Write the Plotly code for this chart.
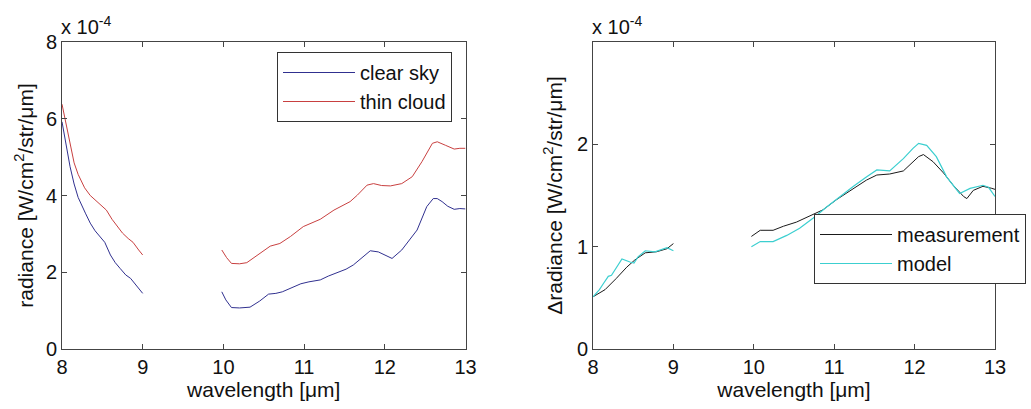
import plotly.graph_objects as go

# ---- data (radiance in units of 1e-4 W/cm^2/str/um) ----
clear_x1 = [8.00, 8.05, 8.10, 8.15, 8.20, 8.29, 8.35, 8.41, 8.47, 8.53, 8.60, 8.66, 8.72, 8.79, 8.85, 8.92, 9.00]
clear_y1 = [5.92, 5.30, 4.75, 4.30, 3.95, 3.54, 3.28, 3.08, 2.92, 2.78, 2.45, 2.25, 2.10, 1.93, 1.84, 1.66, 1.45]
clear_x2 = [9.98, 10.03, 10.10, 10.20, 10.33, 10.45, 10.56, 10.65, 10.73, 10.85, 10.96, 11.06, 11.20, 11.30, 11.43,
            11.52, 11.61, 11.72, 11.82, 11.92, 12.00, 12.09, 12.21, 12.30, 12.40, 12.52, 12.60, 12.65, 12.71, 12.78,
            12.86, 12.93, 13.00]
clear_y2 = [1.49, 1.28, 1.08, 1.07, 1.09, 1.25, 1.43, 1.45, 1.49, 1.60, 1.70, 1.75, 1.80, 1.90, 2.01,
            2.08, 2.19, 2.38, 2.56, 2.53, 2.45, 2.36, 2.58, 2.82, 3.10, 3.71, 3.92, 3.92, 3.84, 3.72,
            3.64, 3.66, 3.65]

cloud_x1 = [8.00, 8.05, 8.10, 8.15, 8.20, 8.28, 8.35, 8.43, 8.50, 8.55, 8.62, 8.68, 8.75, 8.82, 8.88, 8.95, 9.00]
cloud_y1 = [6.38, 5.85, 5.30, 4.85, 4.55, 4.20, 4.00, 3.84, 3.72, 3.62, 3.38, 3.20, 3.02, 2.88, 2.78, 2.58, 2.45]
cloud_x2 = [9.98, 10.04, 10.10, 10.20, 10.29, 10.42, 10.50, 10.58, 10.70, 10.83, 10.99, 11.10, 11.20, 11.37, 11.47,
            11.57, 11.66, 11.78, 11.86, 11.96, 12.07, 12.21, 12.34, 12.46, 12.59, 12.65, 12.75, 12.86, 12.93, 13.00]
cloud_y2 = [2.58, 2.38, 2.23, 2.22, 2.25, 2.45, 2.58, 2.68, 2.75, 2.93, 3.19, 3.28, 3.38, 3.62, 3.73,
            3.84, 4.01, 4.27, 4.31, 4.26, 4.25, 4.31, 4.49, 4.88, 5.36, 5.40, 5.31, 5.21, 5.23, 5.23]

meas_x1 = [8.00, 8.15, 8.29, 8.42, 8.52, 8.65, 8.79, 8.92, 9.00]
meas_y1 = [0.51, 0.58, 0.69, 0.80, 0.87, 0.94, 0.95, 0.98, 1.03]
meas_x2 = [9.97, 10.08, 10.24, 10.37, 10.53, 10.70, 10.86, 11.03, 11.24, 11.40, 11.53, 11.69, 11.86, 11.98, 12.05,
           12.11, 12.23, 12.36, 12.48, 12.61, 12.65, 12.73, 12.85, 12.96, 13.00]
meas_y2 = [1.10, 1.16, 1.16, 1.20, 1.24, 1.30, 1.36, 1.46, 1.57, 1.65, 1.70, 1.71, 1.74, 1.83, 1.88,
           1.90, 1.83, 1.72, 1.60, 1.49, 1.47, 1.55, 1.59, 1.57, 1.56]

model_x1 = [8.00, 8.08, 8.13, 8.19, 8.23, 8.30, 8.36, 8.46, 8.51, 8.56, 8.65, 8.77, 8.85, 8.92, 9.00]
model_y1 = [0.51, 0.58, 0.64, 0.71, 0.72, 0.80, 0.88, 0.85, 0.84, 0.90, 0.96, 0.95, 0.97, 0.99, 0.96]
model_x2 = [9.97, 10.08, 10.24, 10.41, 10.57, 10.74, 10.91, 11.07, 11.24, 11.40, 11.53, 11.69, 11.86, 11.98, 12.05,
            12.15, 12.27, 12.40, 12.56, 12.69, 12.85, 12.92, 13.00]
model_y2 = [1.00, 1.05, 1.05, 1.11, 1.18, 1.28, 1.39, 1.49, 1.59, 1.68, 1.75, 1.74, 1.86, 1.96, 2.01,
            1.99, 1.88, 1.68, 1.52, 1.57, 1.60, 1.58, 1.49]

x_ticks = [8, 9, 10, 11, 12, 13]
left_yticks = [0, 2, 4, 6, 8]
right_yticks = [0, 1, 2]

W, H = 1031, 409
FONT = "Liberation Sans, Arial, sans-serif"
FS = 21
TFS = 20
LFS = 20


def join(a, b):
    return a + [None] + b


fig = go.Figure()
fig.add_trace(go.Scatter(x=join(clear_x1, clear_x2), y=join(clear_y1, clear_y2), mode="lines",
                         name="clear sky", line=dict(color="#30308f", width=1), xaxis="x", yaxis="y",
                         legend="legend", connectgaps=False))
fig.add_trace(go.Scatter(x=join(cloud_x1, cloud_x2), y=join(cloud_y1, cloud_y2), mode="lines",
                         name="thin cloud", line=dict(color="#c84040", width=1), xaxis="x", yaxis="y",
                         legend="legend", connectgaps=False))
fig.add_trace(go.Scatter(x=join(meas_x1, meas_x2), y=join(meas_y1, meas_y2), mode="lines",
                         name="measurement", line=dict(color="#1a1a1a", width=1), xaxis="x2", yaxis="y2",
                         legend="legend2", connectgaps=False))
fig.add_trace(go.Scatter(x=join(model_x1, model_x2), y=join(model_y1, model_y2), mode="lines",
                         name="model", line=dict(color="#3ccfd0", width=1.2), xaxis="x2", yaxis="y2",
                         legend="legend2", connectgaps=False))

axis_common = dict(showline=True, linecolor="#444", linewidth=1, mirror="ticks", ticks="inside",
                   ticklen=5, tickcolor="#444", showgrid=False, zeroline=False, automargin=False,
                   tickfont=dict(family=FONT, size=TFS, color="#111"))

x1d = [62 / W, 465.5 / W]
x2d = [593 / W, 995 / W]
yd = [1 - 349 / H, 1 - 42 / H]

fig.update_layout(
    width=W, height=H, margin=dict(l=0, r=0, t=0, b=0, autoexpand=False),
    paper_bgcolor="white", plot_bgcolor="white",
    font=dict(family=FONT, size=FS, color="#111"),
    xaxis=dict(domain=x1d, range=[8, 13], tickvals=x_ticks, anchor="y",
               title=dict(text="wavelength [μm]", standoff=4, font=dict(size=FS)), **axis_common),
    yaxis=dict(domain=yd, range=[0, 8], tickvals=left_yticks, anchor="x",
               title=dict(text="radiance [W/cm<sup>2</sup>/str/μm]", standoff=6, font=dict(size=FS)),
               **axis_common),
    xaxis2=dict(domain=x2d, range=[8, 13], tickvals=x_ticks, anchor="y2",
                title=dict(text="wavelength [μm]", standoff=4, font=dict(size=FS)), **axis_common),
    yaxis2=dict(domain=yd, range=[0, 3], tickvals=right_yticks, anchor="x2",
                title=dict(text="Δradiance [W/cm<sup>2</sup>/str/μm]", standoff=8, font=dict(size=FS)),
                **axis_common),
    legend=dict(x=277 / W, y=1 - 52 / H, xanchor="left", yanchor="top", bgcolor="white",
                bordercolor="#333", borderwidth=1, font=dict(family=FONT, size=LFS),
                itemwidth=72, tracegroupgap=0),
    legend2=dict(x=814 / W, y=1 - 214 / H, xanchor="left", yanchor="top", bgcolor="white",
                 bordercolor="#333", borderwidth=1, font=dict(family=FONT, size=LFS),
                 itemwidth=72, tracegroupgap=0),
    showlegend=True,
)

for xpos in (59, 590):
    fig.add_annotation(x=xpos / W, y=1 - 40 / H, xref="paper", yref="paper", xanchor="left", yanchor="bottom",
                       text="x 10<sup>-4</sup>", showarrow=False, font=dict(family=FONT, size=TFS, color="#111"))

fig.write_html("out.html", config={"displayModeBar": False},
               post_script="document.body.style.margin='0';document.body.style.padding='0';")
